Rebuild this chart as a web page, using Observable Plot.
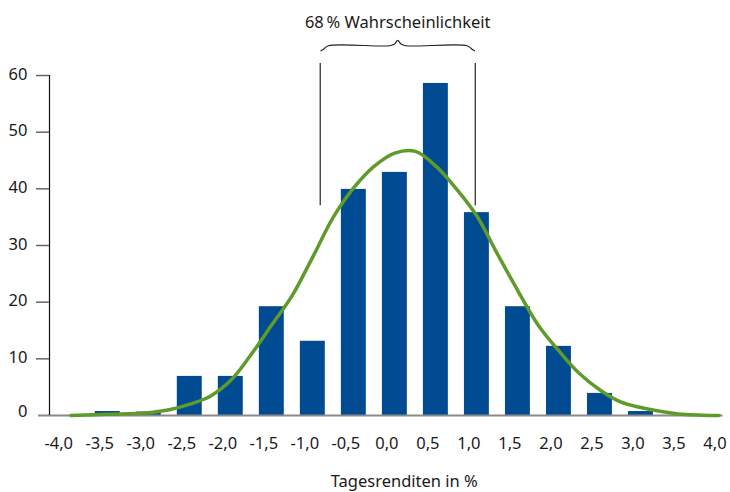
<!DOCTYPE html>
<html>
<head>
<meta charset="utf-8">
<script src="https://cdn.jsdelivr.net/npm/d3@7"></script>
<script src="https://cdn.jsdelivr.net/npm/@observablehq/plot@0.6"></script>
<style>
  html, body { margin: 0; padding: 0; background: #fff; }
  #chart svg { display: block; }
</style>
</head>
<body>
<div id="chart"></div>
<script>
// ---- data ----
const binCenters = [-3.5, -3.0, -2.5, -2.0, -1.5, -1.0, -0.5, 0.0, 0.5, 1.0, 1.5, 2.0, 2.5, 3.0];
const binValues  = [0.7, 0.6, 6.9, 6.9, 19.2, 13.1, 39.9, 42.9, 58.6, 35.8, 19.2, 12.2, 3.9, 0.7];

const curveX = [-3.95, -3.5, -3.0, -2.75, -2.5, -2.25, -2.0, -1.75, -1.5, -1.25, -1.0, -0.75, -0.5, -0.25, 0.0, 0.25, 0.5, 0.75, 1.0, 1.25, 1.5, 1.75, 2.0, 2.25, 2.5, 2.75, 3.0, 3.25, 3.5, 3.75, 3.95];
const curveY = [0, 0.2, 0.5, 1.0, 2.0, 3.4, 6.2, 10.8, 16.0, 21.2, 28.0, 35.0, 40.2, 44.0, 46.3, 46.6, 44.0, 40.0, 35.2, 28.5, 22.0, 15.9, 11.4, 7.4, 4.5, 2.4, 1.4, 0.7, 0.2, 0.05, 0];

const xTicks = [-4.0, -3.5, -3.0, -2.5, -2.0, -1.5, -1.0, -0.5, 0.0, 0.5, 1.0, 1.5, 2.0, 2.5, 3.0, 3.5, 4.0];
const xTickLabels = ["-4,0", "-3,5", "-3,0", "-2,5", "-2,0", "-1,5", "-1,0", "-0,5", "0,0", "0,5", "1,0", "1,5", "2,0", "2,5", "3,0", "3,5", "4,0"];
const yTicks = [0, 10, 20, 30, 40, 50, 60];
const yTickLabels = ["0", "10", "20", "30", "40", "50", "60"];

const xAxisTitle = "Tagesrenditen in %";
const bracketLabel = "68\u202F% Wahrscheinlichkeit";
const bracketRange = [-0.91, 0.98];   // ±1 sigma span
const bracketLines = [37.0, 62.1];    // vertical extent of bracket lines

// ---- layout ----
const W = 730, H = 492, ML = 49, MR = 7.5, MT = 75, MB = 77;
const xMin = -4.21, xMax = 4.0;
const pxPerX = (W - ML - MR) / (xMax - xMin);
const px = n => n / pxPerX;  // pixel length -> x units

// ---- build tables ----
const bars = binCenters.map((c, i) => ({c, v: binValues[i]}));
const curve = curveX.map((x, i) => ({x, y: curveY[i]}));
const yLabelRows = yTicks.map((v, i) => ({v, label: yTickLabels[i]}));

const [bL, bR] = bracketRange;
const bMid = (bL + bR) / 2;
const braceBase = 65.25, braceEnd = 64.35, bracePeak = 66.2;
const brace = [
  {x: bL + 0.01, y: braceEnd},
  {x: bL + 0.04, y: braceBase - 0.6},
  {x: bL + 0.10, y: braceBase},
  {x: bMid - 0.10, y: braceBase},
  {x: bMid - 0.04, y: braceBase + 0.3},
  {x: bMid, y: bracePeak},
  {x: bMid + 0.04, y: braceBase + 0.3},
  {x: bMid + 0.10, y: braceBase},
  {x: bR - 0.10, y: braceBase},
  {x: bR - 0.04, y: braceBase - 0.6},
  {x: bR - 0.01, y: braceEnd}
];

const FONT = "Noto Sans, sans-serif";
const FS = 16.5;
const INK = "#1a1a1a";

const chart = Plot.plot({
  width: W,
  height: H,
  marginLeft: ML,
  marginRight: MR,
  marginTop: MT,
  marginBottom: MB,
  style: {fontFamily: FONT, fontSize: FS + "px", color: INK, background: "#fff"},
  x: {type: "linear", domain: [xMin, xMax], axis: null},
  y: {type: "linear", domain: [0, 60], axis: null},
  marks: [
    // bars
    Plot.rectY(bars, {x1: d => d.c - 0.152, x2: d => d.c + 0.152, y1: () => 0, y2: "v", fill: "#004b91"}),
    // baseline
    Plot.ruleY([0], {x1: () => xMin - px(11), x2: () => xMax, stroke: "#8a8a8a", strokeWidth: 2}),
    // y axis line
    Plot.ruleX([xMin], {y1: () => 0, y2: () => 60, stroke: "#111", strokeWidth: 1.2}),
    // y tick marks (none at 0)
    Plot.ruleY(yTicks.filter(v => v > 0), {x1: () => xMin - px(13), x2: () => xMin, stroke: "#666", strokeWidth: 1.5}),
    // y tick labels
    Plot.text(yLabelRows.filter(d => d.v > 0), {y: "v", x: () => xMin, text: "label", textAnchor: "end", dx: -22, dy: -1, fill: INK, fontSize: FS}),
    Plot.text(yLabelRows.filter(d => d.v === 0), {y: "v", x: () => xMin, text: "label", textAnchor: "end", dx: -22, dy: -4, fill: INK, fontSize: FS}),
    // normal curve
    Plot.line(curve, {x: "x", y: "y", curve: "catmull-rom", stroke: "#5f9a2a", strokeWidth: 3.5, strokeLinejoin: "round", strokeLinecap: "round"}),
    // x tick labels
    Plot.text(xTicks, {x: d => d, y: () => 0, text: (d, i) => xTickLabels[i], dx: -8, dy: 28, fill: INK, fontSize: FS}),
    // x axis title
    Plot.text([xAxisTitle], {frameAnchor: "bottom", lineAnchor: "middle", dx: 18, dy: 66, fill: INK, fontSize: FS}),
    // bracket
    Plot.ruleX(bracketRange, {y1: () => bracketLines[0], y2: () => bracketLines[1], stroke: "#222", strokeWidth: 1.2}),
    Plot.line(brace, {x: "x", y: "y", curve: "catmull-rom", stroke: "#222", strokeWidth: 1.2}),
    Plot.text([bracketLabel], {x: () => bMid, y: () => 69.3, fill: INK, fontSize: FS})
  ]
});

document.getElementById("chart").appendChild(chart);
</script>
</body>
</html>
